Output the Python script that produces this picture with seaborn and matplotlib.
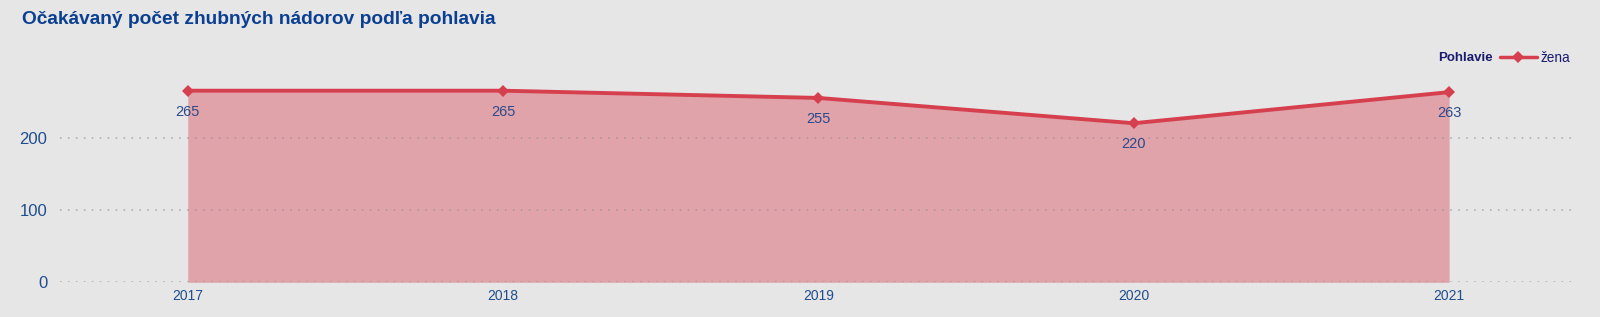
import matplotlib
matplotlib.use("Agg")
import matplotlib.pyplot as plt
import seaborn as sns
import pandas as pd
from matplotlib.lines import Line2D

years = [2017, 2018, 2019, 2020, 2021]
zena = [265, 265, 255, 220, 263]
yticks = [0, 100, 200]
title = "Očakávaný počet zhubných nádorov podľa pohlavia"
legend_title = "Pohlavie"
series_name = "žena"

sns.set_theme(style="white")
plt.rcParams['font.family'] = ['Liberation Sans', 'DejaVu Sans']

BG = "#e6e6e6"
LINE = "#d6404e"
FILL = "#dfa3a9"
BLUE = "#1f4e8c"
NAVY = "#1a1a6e"

df = pd.DataFrame({"rok": years, "pocet": zena})

fig = plt.figure(figsize=(16, 3.17), dpi=100, facecolor=BG)
ax = fig.add_axes([0.0375, 0.1095, 0.948, 0.6842])
ax.set_facecolor(BG)

ax.fill_between(df["rok"], 0, df["pocet"], color=FILL, linewidth=0, zorder=1)
for y in yticks:
    ax.axhline(y, color="#8f8f8f", alpha=0.7, linestyle=(0, (1, 4.2)), linewidth=1.1, zorder=2)
sns.lineplot(data=df, x="rok", y="pocet", ax=ax, color=LINE, linewidth=2.8,
             marker="D", markersize=6.5, markeredgewidth=0, zorder=3, legend=False)

for x, v in zip(years, zena):
    ax.annotate(str(v), (x, v), xytext=(0, -15), textcoords="offset points",
                ha="center", va="center", fontsize=10.5, color="#2b4a8b")

ax.set_xlim(2016.595, 2021.405)
ax.set_ylim(0, 300)
ax.set_xticks(years)
ax.set_xticklabels([str(y) for y in years], fontsize=10, color=BLUE)
ax.set_yticks(yticks)
ax.set_yticklabels([str(y) for y in yticks], fontsize=12, color=BLUE)
ax.tick_params(axis="x", length=0, pad=5)
ax.tick_params(axis="y", length=0, pad=9)
ax.set_xlabel("")
ax.set_ylabel("")
for s in ax.spines.values():
    s.set_visible(False)

fig.text(22 / 1600, 1 - 20 / 317, title, fontsize=13.8, fontweight="bold",
         color="#0b3f91", ha="left", va="center")

fig.text(1493 / 1600, 1 - 58 / 317, legend_title, fontsize=9.5, fontweight="bold",
         color=NAVY, ha="right", va="center")
handle = Line2D([], [], color=LINE, linewidth=2.5, marker="D", markersize=6.5, markeredgewidth=0)
leg = fig.legend([handle], [series_name], loc="center left",
                 bbox_to_anchor=(1500 / 1600, 1 - 58 / 317), frameon=False,
                 fontsize=9.8, handlelength=2.7, handletextpad=0.25, borderpad=0, borderaxespad=0)
for t in leg.get_texts():
    t.set_color(NAVY)

fig.savefig("out.png", dpi=100, facecolor=BG)
